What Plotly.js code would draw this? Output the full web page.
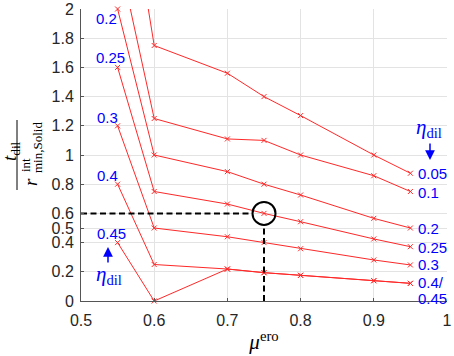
<!DOCTYPE html>
<html>
<head>
<meta charset="utf-8">
<script src="https://cdn.plot.ly/plotly-3.0.1.min.js"></script>
<style>html,body{margin:0;padding:0;background:#fff;}#chart{width:454px;height:356px;}</style>
</head>
<body>
<div id="chart"></div>
<script>
// ---- data ----
const muEro = [0.55, 0.6, 0.7, 0.75, 0.8, 0.9, 0.95];
const etaDil = ['0.05', '0.1', '0.2', '0.25', '0.3', '0.4', '0.45'];
const ratio005 = [3.3, 1.75, 1.56, 1.40, 1.27, 1.00, 0.875];
const ratio01  = [2.4, 1.25, 1.11, 1.10, 1.00, 0.858, 0.75];
const ratio02  = [2.0, 1.00, 0.886, 0.80, 0.726, 0.566, 0.50];
const ratio025 = [1.6, 0.75, 0.664, 0.60, 0.543, 0.425, 0.372];
const ratio03  = [1.2, 0.50, 0.44, 0.40, 0.358, 0.281, 0.247];
const ratio04  = [0.8, 0.25, 0.219, 0.194, 0.176, 0.139, 0.121];
const ratio045 = [0.4, 0.0, 0.219, 0.194, 0.176, 0.139, 0.121];
const highlightMu = [0.75];
const highlightRatio = [0.6];
const xTickVals = [0.5, 0.6, 0.7, 0.8, 0.9, 1];
const xTickText = ['0.5', '0.6', '0.7', '0.8', '0.9', '1'];
const yTickVals = [0, 0.2, 0.4, 0.5, 0.6, 0.8, 1, 1.2, 1.4, 1.6, 1.8, 2];
const yTickText = ['0', '0.2', '0.4', '0.5', '0.6', '0.8', '1', '1.2', '1.4', '1.6', '1.8', '2'];
const leftLabels = ['0.2', '0.25', '0.3', '0.4', '0.45'];
const rightLabels = ['0.05', '0.1', '0.2', '0.25', '0.3', '0.4/', '0.45'];

const series = [ratio005, ratio01, ratio02, ratio025, ratio03, ratio04, ratio045];

// ---- layout geometry ----
const W = 454, H = 356;
const M = {l: 81, r: 7, t: 9, b: 55};
const pw = W - M.l - M.r, ph = H - M.t - M.b;
const xr = [0.5, 1], yr = [0, 2];
const fx = p => (p - M.l) / pw;
const fy = p => (H - M.b - p) / ph;

const RED = 'rgb(255,40,40)';
const BLUE = '#0000ff';
const SANS = 'Liberation Sans, Arial, sans-serif';
const SERIF = 'Liberation Serif, Times New Roman, serif';

const traces = [];
series.forEach((ys, i) => {
  traces.push({x: muEro, y: ys, mode: 'lines', name: etaDil[i], showlegend: false,
    line: {color: RED, width: 1}, hoverinfo: 'skip'});
  const px = [], py = [];
  muEro.forEach((m, j) => { if (ys[j] >= yr[0] && ys[j] <= yr[1]) { px.push(m); py.push(ys[j]); } });
  traces.push({x: px, y: py, mode: 'markers', showlegend: false, cliponaxis: false,
    marker: {symbol: 'x-thin-open', size: 5, color: RED, line: {color: RED, width: 1}}});
});

// dashed guide lines to the highlighted point, ending at the circle edge
const circleR = 12.5;
const dxData = circleR / pw * (xr[1] - xr[0]);
const dyData = circleR / ph * (yr[1] - yr[0]);
traces.push({x: [xr[0], highlightMu[0] - dxData], y: [highlightRatio[0], highlightRatio[0]], mode: 'lines',
  showlegend: false, line: {color: '#000', width: 2, dash: '6px,3.5px'}});
traces.push({x: [highlightMu[0], highlightMu[0]], y: [yr[0], highlightRatio[0] - dyData], mode: 'lines',
  showlegend: false, line: {color: '#000', width: 2, dash: '6px,3.5px'}});
traces.push({x: highlightMu, y: highlightRatio, mode: 'markers', showlegend: false, cliponaxis: false,
  marker: {symbol: 'circle-open', size: 23, color: '#000', line: {color: '#000', width: 2}}});

const ann = [];
function lab(text, xl, yc, opts) {
  ann.push(Object.assign({text: text, xref: 'paper', yref: 'paper', x: fx(xl), y: fy(yc),
    xanchor: 'left', yanchor: 'middle', showarrow: false,
    font: {family: SANS, size: 15, color: BLUE}}, opts || {}));
}
// left labels
const leftPos = [[94, 18], [94, 57], [95, 117], [95, 175], [95, 233]];
leftLabels.forEach((t, i) => lab(t, leftPos[i][0], leftPos[i][1]));
// right labels
const rightPos = [[416, 173], [416, 192], [416, 228], [416, 247], [416, 264], [416, 282], [416, 298]];
rightLabels.forEach((t, i) => lab(t, rightPos[i][0], rightPos[i][1]));
// eta_dil labels
const etaText = '<i>η</i><sub>dil</sub>';
ann.push({text: etaText, xref: 'paper', yref: 'paper', x: fx(109), y: fy(275), xanchor: 'center', yanchor: 'middle',
  showarrow: false, font: {family: SERIF, size: 21, color: BLUE}});
ann.push({text: etaText, xref: 'paper', yref: 'paper', x: fx(429), y: fy(128), xanchor: 'center', yanchor: 'middle',
  showarrow: false, font: {family: SERIF, size: 21, color: BLUE}});
// arrows
ann.push({text: '', xref: 'paper', yref: 'paper', x: fx(108), y: fy(247), ax: 0, ay: 17, showarrow: true,
  arrowhead: 2, arrowsize: 1.3, arrowwidth: 1.5, arrowcolor: BLUE});
ann.push({text: '', xref: 'paper', yref: 'paper', x: fx(430), y: fy(160), ax: 0, ay: -18, showarrow: true,
  arrowhead: 2, arrowsize: 1.3, arrowwidth: 1.5, arrowcolor: BLUE});
// y axis title as a fraction
ann.push({text: '<i>t</i><sub>dil</sub>', xref: 'paper', yref: 'paper', x: fx(11), y: fy(151),
  xanchor: 'center', yanchor: 'middle', textangle: -90, showarrow: false,
  font: {family: SERIF, size: 19, color: '#000'}});
ann.push({text: '<i>r</i>', xref: 'paper', yref: 'paper', x: fx(30), y: fy(182),
  xanchor: 'center', yanchor: 'middle', textangle: -90, showarrow: false,
  font: {family: SERIF, size: 19, color: '#000'}});
ann.push({text: 'int', xref: 'paper', yref: 'paper', x: fx(25), y: fy(165),
  xanchor: 'center', yanchor: 'middle', textangle: -90, showarrow: false,
  font: {family: SERIF, size: 13, color: '#000'}});
ann.push({text: 'min,Solid', xref: 'paper', yref: 'paper', x: fx(37), y: fy(148),
  xanchor: 'center', yanchor: 'middle', textangle: -90, showarrow: false,
  font: {family: SERIF, size: 13, color: '#000'}});

const layout = {
  width: W, height: H,
  margin: M,
  paper_bgcolor: '#fff', plot_bgcolor: '#fff',
  showlegend: false,
  xaxis: {range: xr, tickvals: xTickVals, ticktext: xTickText, ticks: 'inside', ticklen: 3, tickcolor: '#555',
    showline: true, linecolor: '#555', linewidth: 1, gridcolor: '#e3e3e3', zeroline: false,
    tickfont: {family: SANS, size: 16, color: '#262626'}, ticklabelstandoff: 5,
    title: {text: '<i>μ</i><sup>ero</sup>', font: {family: SERIF, size: 21, color: '#000'}, standoff: 6}},
  yaxis: {range: yr, tickvals: yTickVals, ticktext: yTickText, ticks: 'inside', ticklen: 3, tickcolor: '#555',
    showline: true, linecolor: '#555', linewidth: 1, gridcolor: '#e3e3e3', zeroline: false,
    tickfont: {family: SANS, size: 16, color: '#262626'}, ticklabelstandoff: 3},
  shapes: [{type: 'line', xref: 'paper', yref: 'paper', x0: fx(17), x1: fx(17), y0: fy(120), y1: fy(190),
    line: {color: '#000', width: 1}}],
  annotations: ann
};

Plotly.newPlot('chart', traces, layout, {displayModeBar: false, staticPlot: true});
</script>
</body>
</html>
